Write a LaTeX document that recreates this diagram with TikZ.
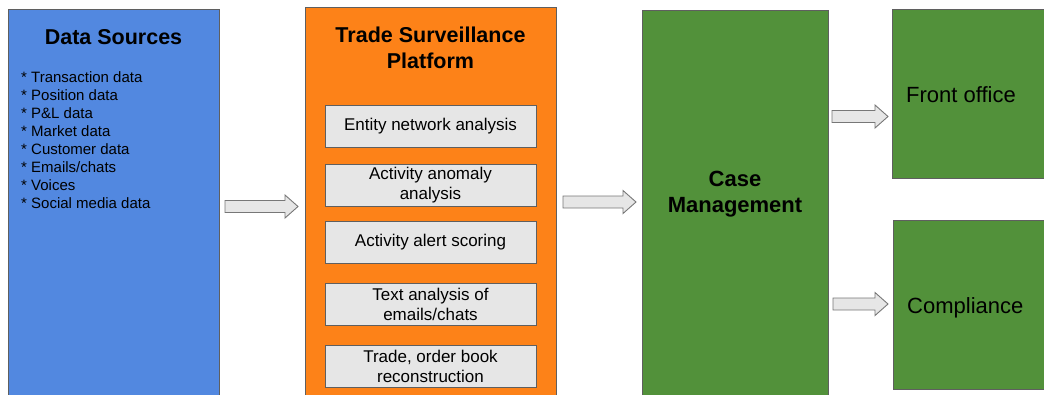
\documentclass[tikz,border=0pt]{standalone}
\usepackage{fontspec}
\setmainfont{Liberation Sans}
\usepackage{tikz}
\usetikzlibrary{calc}

\definecolor{srcblue}{HTML}{5288E0}
\definecolor{tsporange}{HTML}{FD8218}
\definecolor{casegreen}{HTML}{52913A}
\definecolor{boxgray}{HTML}{E6E6E6}
\definecolor{edgegray}{HTML}{5F5F5F}

\tikzset{
  panel/.style={rectangle, draw=edgegray, line width=1pt, anchor=north west, inner sep=0pt},
  module/.style={rectangle, draw=edgegray, line width=1pt, fill=boxgray,
    minimum width=211pt, minimum height=42pt, align=center, inner sep=0pt,
    font=\fontsize{17}{20}\selectfont},
  heading/.style={align=center, inner sep=0pt, font=\fontsize{21.5}{26}\selectfont\bfseries},
  item/.style={anchor=base west, inner sep=0pt, font=\fontsize{15}{18}\selectfont},
  target/.style={anchor=base west, inner sep=0pt, font=\fontsize{22}{26}\selectfont},
  flowarrow/.style={draw=edgegray!85, fill=boxgray, line width=0.9pt, line join=miter}
}

% block arrow from tail #1 to tip #2
\newcommand{\blockarrow}[2]{
  \draw[flowarrow] ($(#1)+(0,-6)$) -- ($(#2)+(-13,-6)$) -- ($(#2)+(-13,-11.5)$)
    -- (#2) -- ($(#2)+(-13,11.5)$) -- ($(#2)+(-13,6)$) -- ($(#1)+(0,6)$) -- cycle;
}

\begin{document}
\begin{tikzpicture}[x=1pt, y=-1pt]

\useasboundingbox (0,0) rectangle (1044,394);
\clip (0,0) rectangle (1044,394);

% Data Sources
\node[panel, fill=srcblue, minimum width=211pt, minimum height=400pt] (sources) at (8,9) {};
\node[heading] (sources-title) at (113.5,37) {Data Sources};
\foreach \t [count=\i] in {Transaction data, Position data, P\&L data, Market data,
    Customer data, Emails/chats, Voices, Social media data}
{
    \node[item] (src-\i) at (21,{82+18*(\i-1)}) {* \t};
}

% Trade Surveillance Platform
\node[panel, fill=tsporange, minimum width=251pt, minimum height=400pt] (platform) at (305,7) {};
\node[heading] (platform-title) at (430.5,47.5) {Trade Surveillance\\Platform};
\foreach \t/\y [count=\i] in {Entity network analysis/126, {Activity anomaly\\analysis}/185,
    Activity alert scoring/242, {Text analysis of\\emails/chats}/304,
    {Trade, order book\\reconstruction}/366.5}
{
    \node[module] (module-\i) at (430.5,\y) {\t};
}

% Case Management
\node[panel, fill=casegreen, minimum width=186pt, minimum height=400pt] (case) at (642,10) {};
\node[heading, font=\fontsize{22}{26}\selectfont\bfseries] (case-title) at (735,194) {Case\\Management};

% Outputs
\node[panel, fill=casegreen, minimum width=170pt, minimum height=169pt] (front) at (892,9) {};
\node[target] (front-title) at (906,102) {Front office};
\node[panel, fill=casegreen, minimum width=170pt, minimum height=169pt] (compliance) at (893,220) {};
\node[target] (compliance-title) at (907,313) {Compliance};

% Flow arrows
\coordinate (in-1) at (225,206.5);
\coordinate (out-1) at (298,206.5);
\coordinate (in-2) at (563,202);
\coordinate (out-2) at (636,202);
\coordinate (in-3) at (832,116.5);
\coordinate (out-3) at (888,116.5);
\coordinate (in-4) at (833,304);
\coordinate (out-4) at (888,304);
\foreach \i in {1,...,4}
{
    \blockarrow{in-\i}{out-\i}
}

\end{tikzpicture}
\end{document}
